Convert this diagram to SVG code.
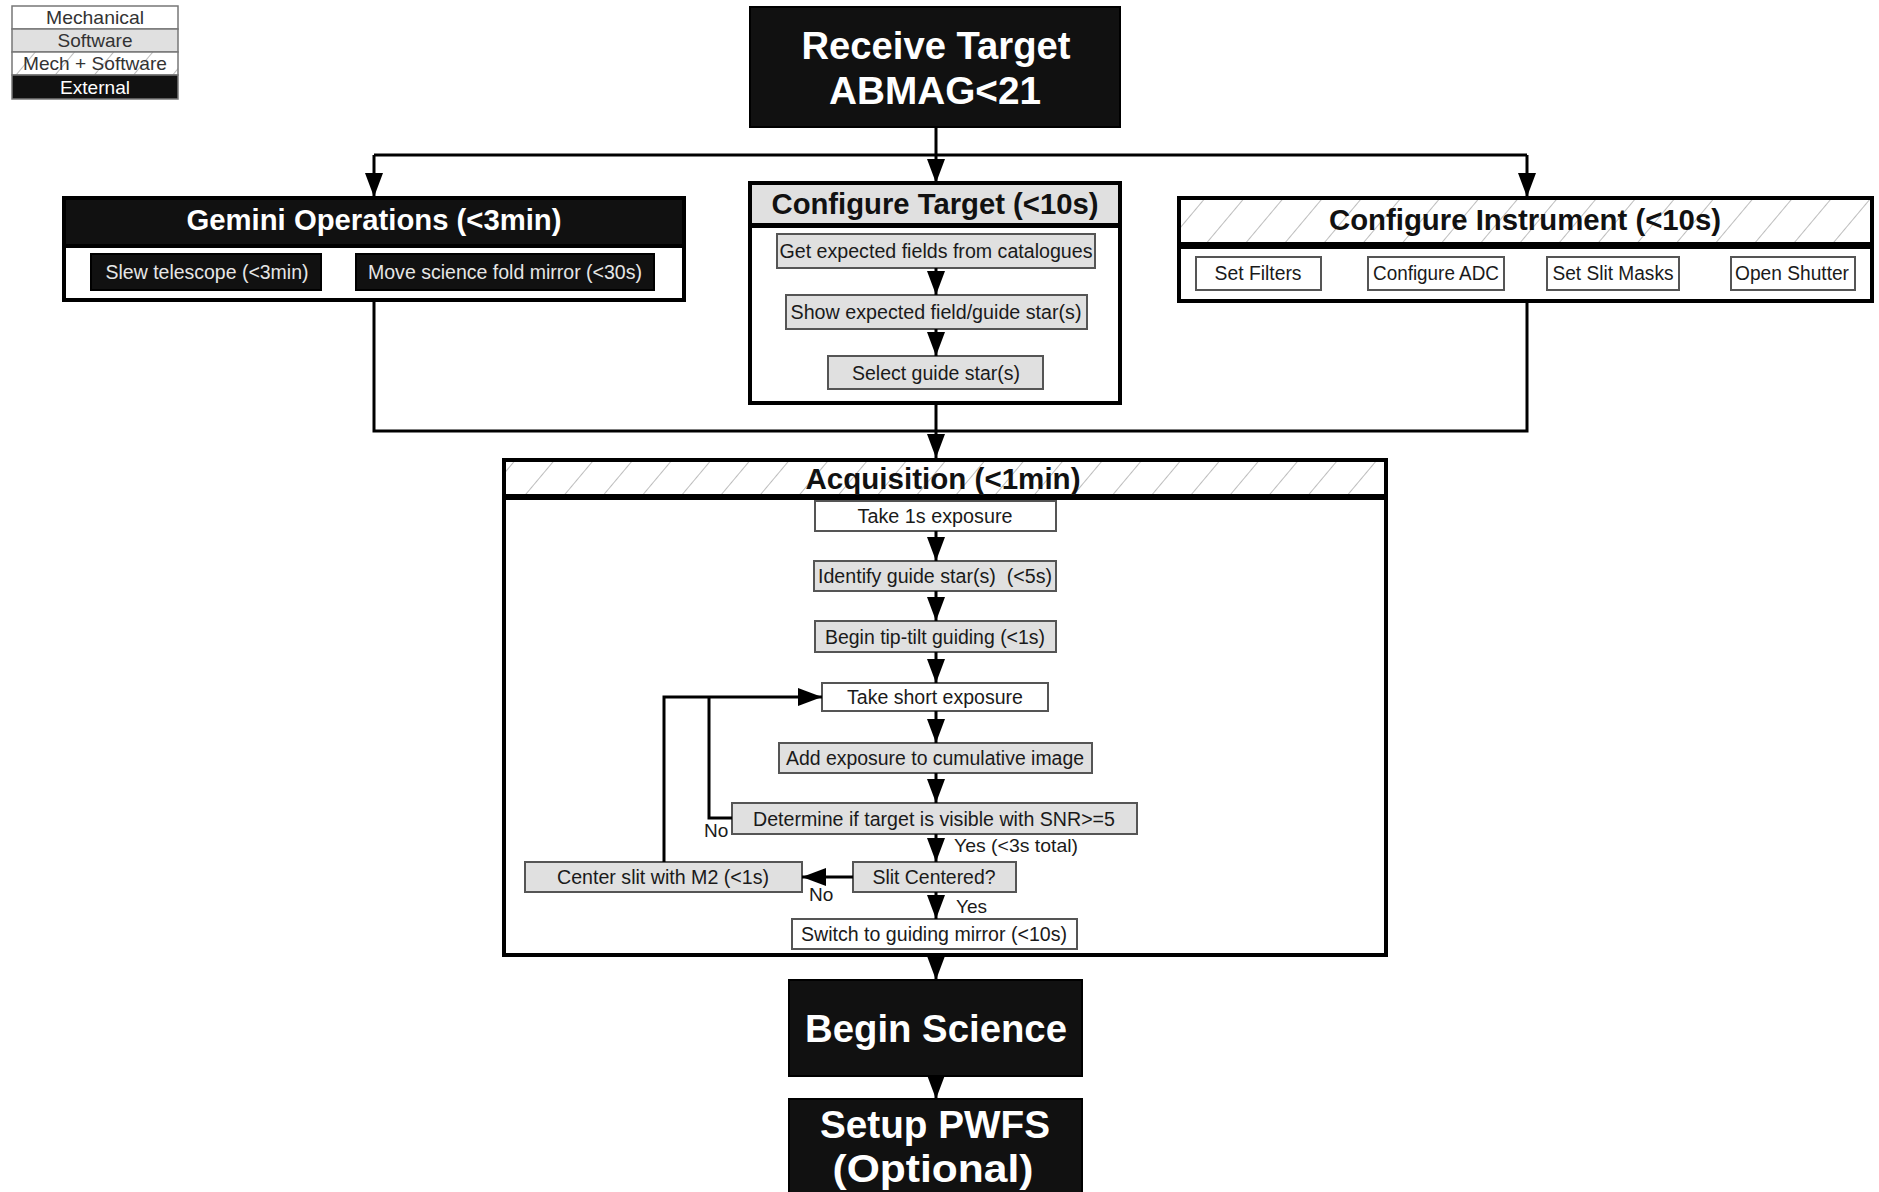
<svg xmlns="http://www.w3.org/2000/svg" width="1879" height="1192" viewBox="0 0 1879 1192">
<style>
text{font-family:"Liberation Sans",Arial,sans-serif;text-anchor:middle}
.big{font-size:39px;font-weight:bold;fill:#fff}
.title{font-size:29px;font-weight:bold}
.tw{fill:#fff}
.tb{fill:#111}
.lbl{font-size:20px;fill:#1a1a1a}
.lblw{font-size:20px;fill:#e6e6e6}
.leg{font-size:19px;fill:#333}
.blk{fill:#111;stroke:#000;stroke-width:2}
.gray{fill:#e0e0e0;stroke:#555;stroke-width:2}
.white{fill:#fff;stroke:#555;stroke-width:2}
.frame{fill:#fff;stroke:#000;stroke-width:4}
.hframe{fill:url(#hatch);stroke:#000;stroke-width:4}
.gframe{fill:#e0e0e0;stroke:#000;stroke-width:4}
.con{fill:none;stroke:#000;stroke-width:3}
.arr{fill:none;stroke:#000;stroke-width:3;marker-end:url(#ah)}
.note{font-size:19px;fill:#1a1a1a;text-anchor:start}
</style>
<defs>
<pattern id="hatch" patternUnits="userSpaceOnUse" width="30" height="30" patternTransform="rotate(40)">
<rect width="30" height="30" fill="#fff"/>
<line x1="0" y1="0" x2="0" y2="30" stroke="#9a9a9a" stroke-width="1.3"/>
</pattern>
<marker id="ah" markerUnits="userSpaceOnUse" markerWidth="24" markerHeight="18" refX="24" refY="9" orient="auto">
<path d="M0,0 L24,9 L0,18 z" fill="#000"/>
</marker>
</defs>
<rect width="1879" height="1192" fill="#fff"/>

<g id="legend">
<rect x="12" y="6" width="166" height="23" fill="#fff" stroke="#777" stroke-width="1.5"/>
<rect x="12" y="29" width="166" height="23" fill="#e0e0e0" stroke="#777" stroke-width="1.5"/>
<rect x="12" y="52" width="166" height="23" fill="url(#hatch)" stroke="#777" stroke-width="1.5"/>
<rect x="12" y="75" width="166" height="24" fill="#111" stroke="#777" stroke-width="1.5"/>
<text class="leg" x="95" y="24" textLength="98" lengthAdjust="spacingAndGlyphs">Mechanical</text>
<text class="leg" x="95" y="47" textLength="75" lengthAdjust="spacingAndGlyphs">Software</text>
<text class="leg" x="95" y="70" textLength="144" lengthAdjust="spacingAndGlyphs">Mech + Software</text>
<text class="leg" x="95" y="94" textLength="70" lengthAdjust="spacingAndGlyphs" style="fill:#fff">External</text>
</g>

<g id="receive-target">
<rect class="blk" x="750" y="7" width="370" height="120"/>
<text class="big" x="936" y="59" textLength="269" lengthAdjust="spacingAndGlyphs">Receive Target</text>
<text class="big" x="935" y="104" textLength="212" lengthAdjust="spacingAndGlyphs">ABMAG&lt;21</text>
</g>

<g id="gemini-operations">
<rect class="frame" x="64" y="198" width="620" height="102"/>
<rect x="64" y="198" width="620" height="48" fill="#111" stroke="#000" stroke-width="4"/>
<text class="title tw" x="374" y="230" textLength="375" lengthAdjust="spacingAndGlyphs">Gemini Operations (&lt;3min)</text>
<g id="slew-telescope">
<rect class="blk" x="91" y="254" width="230" height="36"/>
<text class="lblw" x="207" y="279" textLength="203" lengthAdjust="spacingAndGlyphs">Slew telescope (&lt;3min)</text>
</g>
<g id="move-fold-mirror">
<rect class="blk" x="356" y="254" width="298" height="36"/>
<text class="lblw" x="505" y="279" textLength="274" lengthAdjust="spacingAndGlyphs">Move science fold mirror (&lt;30s)</text>
</g>
</g>

<g id="configure-target">
<rect class="frame" x="750" y="226" width="370" height="177"/>
<rect class="gframe" x="750" y="183" width="370" height="42"/>
<text class="title tb" x="935" y="214" textLength="327" lengthAdjust="spacingAndGlyphs">Configure Target (&lt;10s)</text>
<g id="get-fields">
<rect class="gray" x="777" y="234" width="318" height="34"/>
<text class="lbl" x="936" y="258" textLength="313" lengthAdjust="spacingAndGlyphs">Get expected fields from catalogues</text>
</g>
<g id="show-field">
<rect class="gray" x="786" y="295" width="301" height="34"/>
<text class="lbl" x="936" y="319" textLength="291" lengthAdjust="spacingAndGlyphs">Show expected field/guide star(s)</text>
</g>
<g id="select-guide">
<rect class="gray" x="828" y="356" width="215" height="33"/>
<text class="lbl" x="936" y="380" textLength="168" lengthAdjust="spacingAndGlyphs">Select guide star(s)</text>
</g>
</g>

<g id="configure-instrument">
<rect class="frame" x="1179" y="247" width="693" height="54"/>
<rect class="hframe" x="1179" y="198" width="693" height="46"/>
<text class="title tb" x="1525" y="230" textLength="392" lengthAdjust="spacingAndGlyphs">Configure Instrument (&lt;10s)</text>
<g id="set-filters">
<rect class="white" x="1196" y="257" width="125" height="33"/>
<text class="lbl" x="1258" y="280" textLength="87" lengthAdjust="spacingAndGlyphs">Set Filters</text>
</g>
<g id="configure-adc">
<rect class="white" x="1368" y="257" width="136" height="33"/>
<text class="lbl" x="1436" y="280" textLength="126" lengthAdjust="spacingAndGlyphs">Configure ADC</text>
</g>
<g id="set-slit-masks">
<rect class="white" x="1547" y="257" width="132" height="33"/>
<text class="lbl" x="1613" y="280" textLength="121" lengthAdjust="spacingAndGlyphs">Set Slit Masks</text>
</g>
<g id="open-shutter">
<rect class="white" x="1731" y="257" width="124" height="33"/>
<text class="lbl" x="1792" y="280" textLength="114" lengthAdjust="spacingAndGlyphs">Open Shutter</text>
</g>
</g>

<g id="acquisition">
<rect class="frame" x="504" y="498" width="882" height="457"/>
<rect class="hframe" x="504" y="460" width="882" height="36"/>
<text class="title tb" x="943" y="489" textLength="275" lengthAdjust="spacingAndGlyphs">Acquisition (&lt;1min)</text>
<g id="take-1s">
<rect class="white" x="815" y="501" width="241" height="30"/>
<text class="lbl" x="935" y="523" textLength="155" lengthAdjust="spacingAndGlyphs">Take 1s exposure</text>
</g>
<g id="identify-guide">
<rect class="gray" x="814" y="561" width="242" height="30"/>
<text class="lbl" x="935" y="583" textLength="234" lengthAdjust="spacingAndGlyphs" style="white-space:pre">Identify guide star(s)  (&lt;5s)</text>
</g>
<g id="tip-tilt">
<rect class="gray" x="815" y="621" width="241" height="31"/>
<text class="lbl" x="935" y="644" textLength="220" lengthAdjust="spacingAndGlyphs">Begin tip-tilt guiding (&lt;1s)</text>
</g>
<g id="take-short">
<rect class="white" x="822" y="683" width="226" height="28"/>
<text class="lbl" x="935" y="704" textLength="176" lengthAdjust="spacingAndGlyphs">Take short exposure</text>
</g>
<g id="add-exposure">
<rect class="gray" x="779" y="743" width="313" height="30"/>
<text class="lbl" x="935" y="765" textLength="298" lengthAdjust="spacingAndGlyphs">Add exposure to cumulative image</text>
</g>
<g id="determine-snr">
<rect class="gray" x="732" y="803" width="405" height="31"/>
<text class="lbl" x="934" y="826" textLength="362" lengthAdjust="spacingAndGlyphs">Determine if target is visible with SNR&gt;=5</text>
</g>
<g id="slit-centered">
<rect class="gray" x="853" y="862" width="163" height="30"/>
<text class="lbl" x="934" y="884" textLength="123" lengthAdjust="spacingAndGlyphs">Slit Centered?</text>
</g>
<g id="center-slit">
<rect class="gray" x="525" y="862" width="277" height="30"/>
<text class="lbl" x="663" y="884" textLength="212" lengthAdjust="spacingAndGlyphs">Center slit with M2 (&lt;1s)</text>
</g>
<g id="switch-mirror">
<rect class="white" x="792" y="919" width="285" height="30"/>
<text class="lbl" x="934" y="941" textLength="266" lengthAdjust="spacingAndGlyphs">Switch to guiding mirror (&lt;10s)</text>
</g>
</g>

<g id="begin-science">
<rect class="blk" x="789" y="980" width="293" height="96"/>
<text class="big" x="936" y="1042" textLength="262" lengthAdjust="spacingAndGlyphs">Begin Science</text>
</g>

<g id="setup-pwfs">
<rect class="blk" x="789" y="1099" width="293" height="110"/>
<text class="big" x="935" y="1138" textLength="230" lengthAdjust="spacingAndGlyphs">Setup PWFS</text>
<text class="big" x="933" y="1182" textLength="201" lengthAdjust="spacingAndGlyphs">(Optional)</text>
</g>

<g id="connectors">
<path class="con" d="M936,127 V155 M374,155 H1527"/>
<path class="arr" d="M936,155 V183"/>
<path class="arr" d="M374,155 V197"/>
<path class="arr" d="M1527,155 V197"/>
<path class="arr" d="M936,268 V295"/>
<path class="arr" d="M936,329 V356"/>
<path class="con" d="M374,300 V431 H1527 V301"/>
<path class="arr" d="M936,403 V458"/>
<path class="arr" d="M936,531 V561"/>
<path class="arr" d="M936,591 V621"/>
<path class="arr" d="M936,652 V683"/>
<path class="arr" d="M936,711 V743"/>
<path class="arr" d="M936,773 V803"/>
<path class="arr" d="M936,834 V862"/>
<path class="arr" d="M936,892 V919"/>
<path class="con" d="M732,818 H709 V697"/>
<path class="arr" d="M664,862 V697 H822"/>
<path class="arr" d="M853,877 H802"/>
<path class="arr" d="M936,955 V980"/>
<path class="arr" d="M936,1076 V1099"/>
<text class="note" x="704" y="837">No</text>
<text class="note" x="809" y="901">No</text>
<text class="note" x="954" y="852" textLength="124" lengthAdjust="spacingAndGlyphs">Yes (&lt;3s total)</text>
<text class="note" x="956" y="913">Yes</text>
</g>
</svg>
